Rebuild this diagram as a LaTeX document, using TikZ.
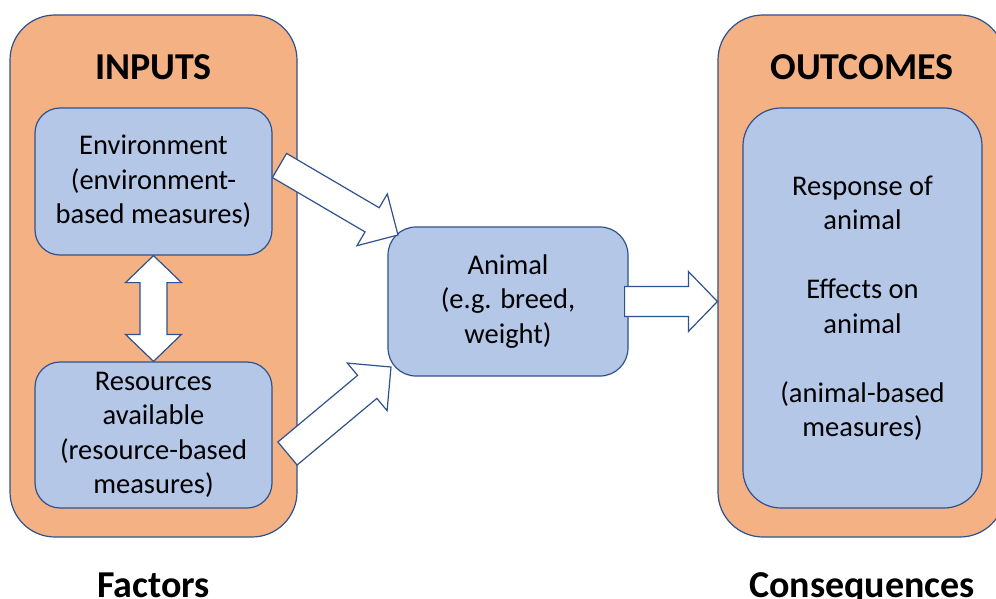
\documentclass[tikz,border=0pt]{standalone}
\usepackage{fontspec}
\setmainfont{Carlito}
\usetikzlibrary{calc}

\definecolor{frameorange}{HTML}{F4B183}
\definecolor{boxblue}{HTML}{B4C7E7}
\definecolor{edgeblue}{HTML}{2F528F}

\tikzset{
  outerbox/.style={draw=edgeblue, fill=frameorange, line width=1.2pt,
    rounded corners=45pt, inner sep=0pt},
  innerbox/.style={draw=edgeblue, fill=boxblue, line width=1.2pt,
    inner sep=0pt, align=center, font=\fontsize{28.5}{34.5}\selectfont},
  titletext/.style={font=\bfseries\fontsize{38}{46}\selectfont, anchor=base},
  arrowshape/.style={draw=edgeblue, fill=white, line width=1.2pt, line join=miter},
}

% block arrow: from, to, half shaft width, half head width, head length
\newcommand{\solidarrow}[5]{%
  \coordinate (hb) at ($(#2)!#5!(#1)$);
  \draw[arrowshape]
    ($(#1)!#3!90:(#2)$) -- ($(hb)!#3!90:(#2)$) -- ($(hb)!#4!90:(#2)$) -- (#2)
    -- ($(hb)!#4!-90:(#2)$) -- ($(hb)!#3!-90:(#2)$) -- ($(#1)!#3!-90:(#2)$) -- cycle;
}
% two-headed block arrow: tip A, tip B, half shaft width, half head width, head length
\newcommand{\twowayarrow}[5]{%
  \coordinate (hbA) at ($(#1)!#5!(#2)$);
  \coordinate (hbB) at ($(#2)!#5!(#1)$);
  \draw[arrowshape]
    (#1) -- ($(hbA)!#4!90:(#2)$) -- ($(hbA)!#3!90:(#2)$)
    -- ($(hbB)!#3!-90:(#1)$) -- ($(hbB)!#4!-90:(#1)$) -- (#2)
    -- ($(hbB)!#4!90:(#1)$) -- ($(hbB)!#3!90:(#1)$)
    -- ($(hbA)!#3!-90:(#2)$) -- ($(hbA)!#4!-90:(#2)$) -- cycle;
}

\begin{document}
\begin{tikzpicture}[x=1pt, y=-1pt]
  \useasboundingbox (0,0) rectangle (996,599);
  \clip (0,0) rectangle (996,599);

  % outer frames
  \node[outerbox, minimum width=287pt, minimum height=522pt] (inputs) at (153.5,276) {};
  \node[outerbox, minimum width=287pt, minimum height=522pt] (outcomes) at (861.5,276) {};

  % frame titles
  \node[titletext] (inputsT) at (153.5,80) {INPUTS};
  \node[titletext] (outcomesT) at (862,80) {OUTCOMES};

  % inner boxes
  \node[innerbox, rounded corners=25pt, minimum width=237pt, minimum height=147pt]
    (env) at (153.5,181.5) {Environment\\(environment-\\based measures)};
  \node[innerbox, rounded corners=25pt, minimum width=237pt, minimum height=146pt]
    (res) at (153.5,435) {Resources\\available\\(resource-based\\measures)};
  \node[innerbox, rounded corners=28pt, minimum width=240pt, minimum height=149pt]
    (animal) at (508,301.5) {Animal\\(e.g. breed,\\weight)};
  \node[innerbox, rounded corners=38pt, minimum width=239pt, minimum height=400pt]
    (resp) at (862.5,308) {Response of\\animal\\[34.5pt]Effects on\\animal\\[34.5pt](animal-based\\measures)};

  % captions below
  \node[titletext] (factors) at (153.5,597) {Factors};
  \node[titletext] (conseq) at (862,597) {Consequences};

  % arrow end points
  \coordinate (envOut) at (279.5,165.5);
  \coordinate (animalInTop) at (398,235);
  \coordinate (resOut) at (287.5,453.5);
  \coordinate (animalInBot) at (391,367);
  \coordinate (animalOut) at ($(animal.east)+(-4,0)$);
  \coordinate (outIn) at (animal.east -| outcomes.west);

  % block arrows
  \solidarrow{envOut}{animalInTop}{14pt}{30pt}{30pt}
  \solidarrow{resOut}{animalInBot}{15pt}{31pt}{31pt}
  \solidarrow{animalOut}{outIn}{15pt}{30pt}{29pt}
  \twowayarrow{env.south}{res.north}{13.5pt}{28pt}{27pt}
\end{tikzpicture}
\end{document}
